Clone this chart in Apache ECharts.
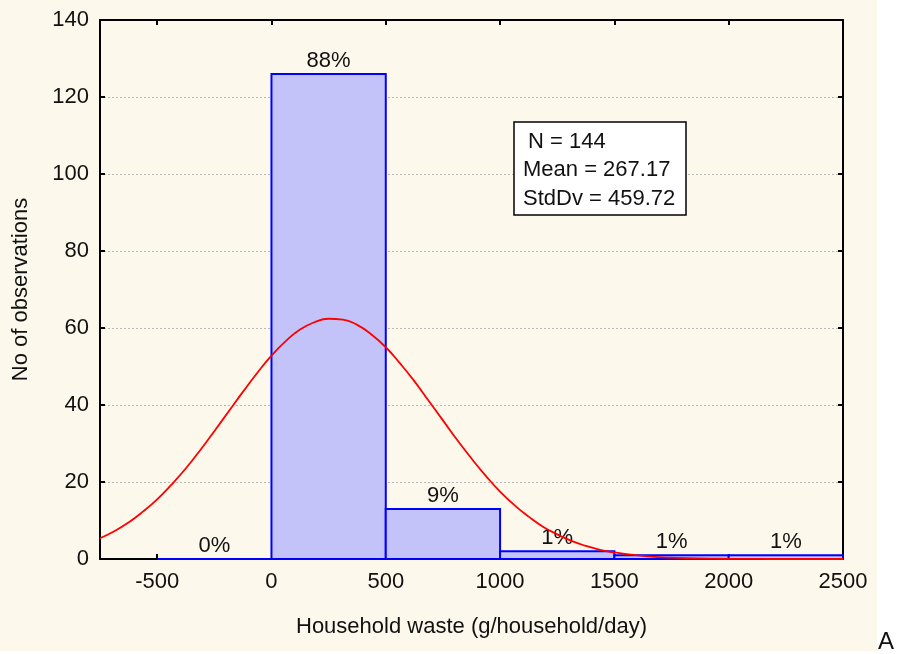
<!DOCTYPE html>
<html>
<head>
<meta charset="utf-8">
<script src="https://cdn.jsdelivr.net/npm/echarts@6/dist/echarts.min.js"></script>
<style>
  html, body { margin: 0; padding: 0; background: #ffffff; }
  #chart { width: 897px; height: 654px; }
</style>
</head>
<body>
<div id="chart"></div>
<script>
// histogram bins (g/household/day)
var binStart = [-500, 0, 500, 1000, 1500, 2000];
var binEnd = [0, 500, 1000, 1500, 2000, 2500];
var binCount = [0, 126, 13, 2, 1, 1];
var binPct = ["0%", "88%", "9%", "1%", "1%", "1%"];

// expected normal curve
var curveX = [-750, -687.5, -625, -562.5, -500, -437.5, -375, -312.5, -250, -187.5, -125, -62.5,
    0, 62.5, 125, 187.5, 250, 312.5, 375, 437.5, 500, 562.5, 625, 687.5,
    750, 812.5, 875, 937.5, 1000, 1062.5, 1125, 1187.5, 1250, 1312.5, 1375, 1437.5,
    1500, 1562.5, 1625, 1687.5, 1750, 1875, 2000, 2125, 2250, 2500];
var curveY = [5.4, 7.2, 9.5, 12.3, 15.5, 19.3, 23.5, 28.2, 33.2, 38.3, 43.4, 48.3,
    52.8, 56.6, 59.6, 61.5, 62.4, 62.2, 60.8, 58.3, 55, 50.8, 46.2, 41.1,
    36, 30.9, 26.1, 21.6, 17.5, 14, 11, 8.4, 6.4, 4.7, 3.4, 2.4,
    1.7, 1.2, 0.8, 0.5, 0.34, 0.14, 0.05, 0.02, 0, 0];

var xTicks = [-500, 0, 500, 1000, 1500, 2000, 2500];
var statLines = ["N = 144", "Mean = 267.17", "StdDv = 459.72"];

var font = '"Liberation Sans", Arial, sans-serif';
var fs = 22;

var myChart = echarts.init(document.getElementById("chart"));

var histData = binStart.map(function (s, i) {
    return [s, binEnd[i], binCount[i]];
});
var curveData = curveX.map(function (x, i) {
    return [x, curveY[i]];
});

function renderBar(params, api) {
    var top = api.coord([api.value(0), api.value(2)]);
    var bottom = api.coord([api.value(1), 0]);
    return {
        type: "group",
        children: [{
            type: "rect",
            shape: { x: top[0], y: top[1], width: bottom[0] - top[0], height: bottom[1] - top[1] },
            style: { fill: "#c3c3f9", stroke: "#0000ff", lineWidth: 2 }
        }, {
            type: "text",
            style: {
                text: binPct[params.dataIndex],
                x: (top[0] + bottom[0]) / 2,
                y: top[1] - 2,
                align: "center",
                verticalAlign: "bottom",
                font: fs + 'px ' + font,
                fill: "#111111"
            }
        }]
    };
}

var boxLeft = 514, boxTop = 122;
var axisStyle = { color: "#000000", width: 2 };

var option = {
    animation: false,
    backgroundColor: "#ffffff",
    textStyle: { fontFamily: font },
    graphic: [{
        type: "rect",
        z: -10,
        silent: true,
        shape: { x: 0, y: 0, width: 877, height: 651 },
        style: { fill: "#fdf8ec" }
    }, {
        type: "rect",
        z: 100,
        shape: { x: boxLeft, y: boxTop, width: 172, height: 93 },
        style: { fill: "#ffffff", stroke: "#000000", lineWidth: 1.5 }
    }, {
        type: "text",
        z: 101,
        left: boxLeft + 14, top: boxTop + 9,
        style: { text: statLines[0], font: fs + 'px ' + font, fill: "#111111" }
    }, {
        type: "text",
        z: 101,
        left: boxLeft + 9, top: boxTop + 37,
        style: { text: statLines[1], font: fs + 'px ' + font, fill: "#111111" }
    }, {
        type: "text",
        z: 101,
        left: boxLeft + 9, top: boxTop + 66,
        style: { text: statLines[2], font: fs + 'px ' + font, fill: "#111111" }
    }, {
        type: "text",
        left: 878, top: 630,
        style: { text: "A", font: '24px ' + font, fill: "#111111" }
    }],
    grid: { left: 100, right: 54, top: 20, bottom: 95 },
    xAxis: [{
        type: "value",
        min: -750,
        max: 2500,
        name: "Household waste (g/household/day)",
        nameLocation: "middle",
        nameGap: 57,
        nameTextStyle: { fontSize: fs, color: "#111111" },
        axisLine: { onZero: false, lineStyle: axisStyle },
        axisTick: { inside: true, length: 5, customValues: xTicks, lineStyle: axisStyle },
        axisLabel: {
            customValues: xTicks, fontSize: fs, color: "#111111", margin: 12,
            formatter: function (v) { return String(v); }
        },
        splitLine: { show: false }
    }, {
        type: "value",
        position: "top",
        min: -750,
        max: 2500,
        axisLine: { show: true, onZero: false, lineStyle: axisStyle },
        axisTick: { show: true, inside: true, length: 5, customValues: xTicks, lineStyle: axisStyle },
        axisLabel: { show: false },
        splitLine: { show: false }
    }],
    yAxis: [{
        type: "value",
        min: 0,
        max: 140,
        interval: 20,
        name: "No of observations",
        nameLocation: "middle",
        nameGap: 68,
        nameTextStyle: { fontSize: fs, color: "#111111" },
        axisLine: { show: true, onZero: false, lineStyle: axisStyle },
        axisTick: { show: true, inside: true, length: 5, lineStyle: axisStyle },
        axisLabel: { fontSize: fs, color: "#111111", margin: 11 },
        splitLine: { show: true, lineStyle: { color: "#b8b8b8", type: [2, 2], width: 1 } }
    }, {
        type: "value",
        position: "right",
        min: 0,
        max: 140,
        interval: 20,
        axisLine: { show: true, onZero: false, lineStyle: axisStyle },
        axisTick: { show: true, inside: true, length: 5, lineStyle: axisStyle },
        axisLabel: { show: false },
        splitLine: { show: false }
    }],
    series: [{
        type: "custom",
        renderItem: renderBar,
        encode: { x: [0, 1], y: 2 },
        data: histData,
        z: 2
    }, {
        type: "line",
        data: curveData,
        smooth: true,
        showSymbol: false,
        lineStyle: { color: "#ff0000", width: 1.8 },
        z: 3
    }]
};

myChart.setOption(option);
</script>
</body>
</html>
